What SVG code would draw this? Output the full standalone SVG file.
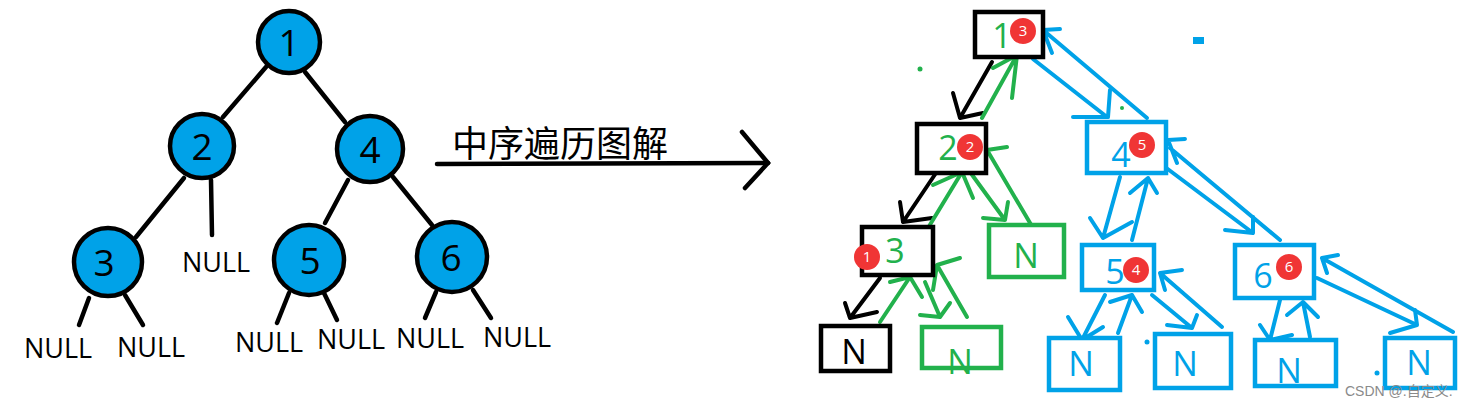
<svg xmlns="http://www.w3.org/2000/svg" width="1482" height="406" viewBox="0 0 1482 406">
<style>
.bg{fill:#ffffff}
.circ{fill:#00a2e8;stroke:#000;stroke-width:4.5}
.num{font-family:"Open Sans","Noto Sans",sans-serif;font-size:37px;fill:#000;text-anchor:middle}
.null{font-family:"Open Sans","Noto Sans",sans-serif;font-size:27px;fill:#000}
.edge{stroke:#000;stroke-width:4.5;stroke-linecap:round;fill:none}
.bbox{fill:#fff;stroke:#000;stroke-width:4.5}
.gbox{fill:#fff;stroke:#22b14c;stroke-width:4.5}
.ubox{fill:#fff;stroke:#00a2e8;stroke-width:4.5}
.lbl{font-family:"Open Sans","Noto Sans",sans-serif;font-size:34px;text-anchor:middle}
.g{fill:#22b14c}.u{fill:#00a2e8}.k{fill:#000}
.red{fill:#f03535}
.rt{font-family:"Open Sans","Noto Sans",sans-serif;font-size:15px;fill:#fff;text-anchor:middle}
.blk{stroke:#000;stroke-width:4;stroke-linecap:round;stroke-linejoin:round;fill:none}
.grn{stroke:#22b14c;stroke-width:4;stroke-linecap:round;stroke-linejoin:round;fill:none}
.blu{stroke:#00a2e8;stroke-width:4;stroke-linecap:round;stroke-linejoin:round;fill:none}
.title{font-family:"Noto Sans CJK SC",sans-serif;font-size:36px;fill:#000}
.wm{font-family:"Liberation Sans","Noto Sans CJK SC",sans-serif;font-size:14px;fill:#8a8a8a}
</style>
<rect class="bg" x="0" y="0" width="1482" height="406"/>

<!-- left tree edges -->
<g id="left-edges">
<path class="edge" d="M266 67 L223 117"/>
<path class="edge" d="M305 72 L345 122"/>
<path class="edge" d="M184 178 L136 237"/>
<path class="edge" d="M211 180 L212 235"/>
<path class="edge" d="M348 180 L325 223"/>
<path class="edge" d="M393 177 L432 225"/>
<path class="edge" d="M89 298 L79 325"/>
<path class="edge" d="M125 295 L143 325"/>
<path class="edge" d="M289 293 L277 323"/>
<path class="edge" d="M324 293 L337 320"/>
<path class="edge" d="M436 292 L425 318"/>
<path class="edge" d="M473 290 L491 318"/>
</g>

<g id="L1"><circle class="circ" cx="289" cy="42" r="31"/><text class="num" x="289" y="56">1</text></g>
<g id="L2"><circle class="circ" cx="202" cy="146" r="32"/><text class="num" x="202" y="160">2</text></g>
<g id="L4"><circle class="circ" cx="370" cy="149" r="33"/><text class="num" x="370" y="163">4</text></g>
<g id="L3"><circle class="circ" cx="108" cy="262" r="34"/><text class="num" x="104" y="276">3</text></g>
<g id="L5"><circle class="circ" cx="309" cy="260" r="35"/><text class="num" x="310" y="274">5</text></g>
<g id="L6"><circle class="circ" cx="452" cy="257" r="35"/><text class="num" x="451" y="271">6</text></g>

<g id="nulls">
<text class="null" x="182" y="272">NULL</text>
<text class="null" x="24" y="358">NULL</text>
<text class="null" x="117" y="357">NULL</text>
<text class="null" x="235" y="352">NULL</text>
<text class="null" x="317" y="349">NULL</text>
<text class="null" x="396" y="348">NULL</text>
<text class="null" x="483" y="347">NULL</text>
</g>

<!-- title arrow -->
<g id="title">
<text class="title" x="452" y="157">中序遍历图解</text>
<path class="edge" d="M437 164 L768 163"/>
<path class="edge" d="M742 132 L768 163 L745 188"/>
</g>

<!-- right tree connectors -->
<g id="connectors">
<!-- black -->
<path class="blk" d="M992 62 L960 118 M953 93 L960 118 L983 113"/>
<path class="blk" d="M938 170 L903 222 M900 202 L903 222 L932 218"/>
<path class="blk" d="M880 278 L850 318 M845 303 L850 318 L877 312"/>
<!-- green -->
<path class="grn" d="M880 322 L910 277 M890 282 L910 277 L922 297"/>
<path class="grn" d="M925 282 L940 317 M920 315 L940 317 L950 303"/>
<path class="grn" d="M967 317 L937 265 M937 265 L960 258 M937 265 L933 290"/>
<path class="grn" d="M928 228 L962 172 M933 185 L962 172 L973 198"/>
<path class="grn" d="M970 172 L1005 220 M983 218 L1005 220 L1008 202"/>
<path class="grn" d="M1033 228 L987 150 M987 150 L1007 147 M987 150 L980 173"/>
<path class="grn" d="M982 118 L1017 55 M993 68 L1017 55 L1012 98"/>
<circle cx="920" cy="69" r="2.5" class="g"/>
<circle cx="1122" cy="108" r="2" class="g"/>
<!-- blue -->
<path class="blu" d="M1033 59 L1107 117 M1073 117 L1107 117 M1110 90 L1108 117"/>
<path class="blu" d="M1147 118 L1043 30 M1043 30 L1060 29 M1043 30 L1052 53"/>
<path class="blu" d="M1120 177 L1103 238 M1090 218 L1103 238 L1132 222"/>
<path class="blu" d="M1132 240 L1148 178 M1130 193 L1148 178 L1157 193"/>
<path class="blu" d="M1105 295 L1082 340 M1068 317 L1082 340 L1103 327"/>
<path class="blu" d="M1118 333 L1132 295 M1110 302 L1132 295 L1142 312"/>
<path class="blu" d="M1152 295 L1192 328 M1167 325 L1192 328 L1197 315"/>
<path class="blu" d="M1222 327 L1160 273 M1160 273 L1182 270 M1160 273 L1165 290"/>
<path class="blu" d="M1165 167 L1253 233 M1225 230 L1253 233 L1253 217"/>
<path class="blu" d="M1280 240 L1170 148 M1168 140 L1185 139 M1168 140 L1177 163"/>
<path class="blu" d="M1280 300 L1270 340 M1260 325 L1270 340 L1292 335"/>
<path class="blu" d="M1310 337 L1303 302 M1287 315 L1303 302 L1318 317"/>
<path class="blu" d="M1317 278 L1417 325 M1390 333 L1417 325 L1415 310"/>
<path class="blu" d="M1453 332 L1322 258 M1322 258 L1338 255 M1322 258 L1327 273"/>
<rect x="1193" y="37" width="11" height="7" class="u"/>
<circle cx="1147" cy="342" r="2.5" class="u"/>
<circle cx="1377" cy="373" r="2.5" class="u"/>
</g>

<!-- right tree nodes -->
<g id="R1"><rect class="bbox" x="975" y="12" width="68" height="45"/><text class="lbl g" x="1002" y="48">1</text><circle class="red" cx="1023" cy="31" r="13"/><text class="rt" x="1023" y="36">3</text></g>
<g id="R2"><rect class="bbox" x="917" y="124" width="69" height="49"/><text class="lbl g" x="948" y="160">2</text><circle class="red" cx="970" cy="147" r="13"/><text class="rt" x="970" y="152">2</text></g>
<g id="R4"><rect class="ubox" x="1087" y="122" width="79" height="51"/><text class="lbl u" x="1121" y="167">4</text><circle class="red" cx="1142" cy="145" r="13"/><text class="rt" x="1142" y="150">5</text></g>
<g id="R3"><rect class="bbox" x="862" y="227" width="71" height="48"/><text class="lbl g" x="895" y="263">3</text><circle class="red" cx="867" cy="257" r="13"/><text class="rt" x="867" y="262">1</text></g>
<g id="RN2"><rect class="gbox" x="989" y="225" width="75" height="52"/><text class="lbl g" x="1026" y="268">N</text></g>
<g id="R5"><rect class="ubox" x="1082" y="245" width="72" height="45"/><text class="lbl u" x="1115" y="284">5</text><circle class="red" cx="1136" cy="270" r="13"/><text class="rt" x="1136" y="275">4</text></g>
<g id="R6"><rect class="ubox" x="1235" y="245" width="79" height="53"/><text class="lbl u" x="1263" y="288">6</text><circle class="red" cx="1289" cy="267" r="13"/><text class="rt" x="1289" y="272">6</text></g>
<g id="RN3L"><rect class="bbox" x="821" y="326" width="69" height="45"/><text class="lbl k" x="854" y="364">N</text></g>
<g id="RN3R"><rect class="gbox" x="922" y="327" width="79" height="41"/><text class="lbl g" x="960" y="374">N</text></g>
<g id="RN5L"><rect class="ubox" x="1049" y="338" width="71" height="52"/><text class="lbl u" x="1081" y="376">N</text></g>
<g id="RN5R"><rect class="ubox" x="1155" y="334" width="76" height="54"/><text class="lbl u" x="1185" y="376">N</text></g>
<g id="RN6L"><rect class="ubox" x="1255" y="340" width="81" height="46"/><text class="lbl u" x="1289" y="383">N</text></g>
<g id="RN6R"><rect class="ubox" x="1385" y="338" width="70" height="50"/><text class="lbl u" x="1419" y="375">N</text></g>

<text class="wm" x="1345" y="396">CSDN @.自定义.</text>
</svg>
